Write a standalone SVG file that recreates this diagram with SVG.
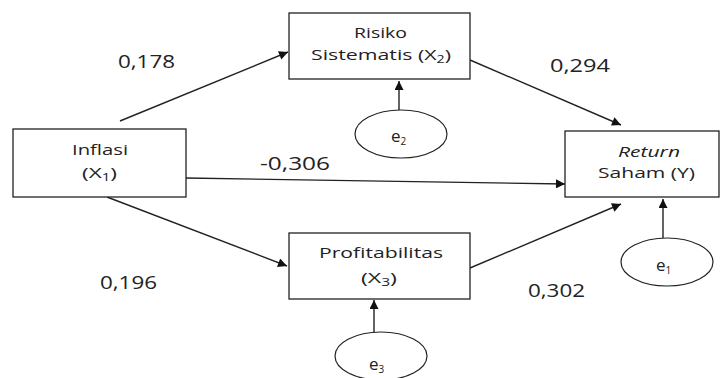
<svg xmlns="http://www.w3.org/2000/svg" width="721" height="378" viewBox="0 0 721 378">
<defs>
<style>
.box{fill:#fff;stroke:#222;stroke-width:1.3}
.ell{fill:#fff;stroke:#222;stroke-width:1.2}
.t{font-family:"Open Sans","DejaVu Sans",sans-serif;font-size:15px;fill:#222}
.e{font-family:"Open Sans","DejaVu Sans",sans-serif;font-size:17px;fill:#222}
.n{font-family:"Open Sans","DejaVu Sans",sans-serif;font-size:18px;fill:#222}
.sub{font-size:10px}
.c{stroke:#222;stroke-width:1.4;fill:none;marker-end:url(#ah)}
</style>
<marker id="ah" viewBox="0 0 10 10" refX="10" refY="5" markerWidth="11" markerHeight="9" markerUnits="userSpaceOnUse" orient="auto"><path d="M0,0 L10,5 L0,10 z" fill="#111"/></marker>
</defs>
<rect width="721" height="378" fill="#fff"/>
<g id="connectors">
<line class="c" x1="120" y1="121" x2="288" y2="52"/>
<line class="c" x1="470" y1="60" x2="621" y2="125"/>
<line class="c" x1="186" y1="178" x2="565" y2="184"/>
<line class="c" x1="107" y1="197" x2="287" y2="266"/>
<line class="c" x1="470" y1="268" x2="621" y2="204"/>
<line class="c" x1="399" y1="110" x2="399" y2="81"/>
<line class="c" x1="663" y1="238" x2="663" y2="199"/>
<line class="c" x1="374" y1="332" x2="374" y2="300"/>
</g>
<g id="inflasi">
<rect class="box" x="13" y="129" width="173" height="68"/>
<text class="t" x="72" y="155" textLength="56" lengthAdjust="spacingAndGlyphs">Inflasi</text>
<text class="t" x="82" y="178" textLength="35" lengthAdjust="spacingAndGlyphs">(X<tspan class="sub" dy="3">1</tspan><tspan dy="-3">)</tspan></text>
</g>
<g id="risiko">
<rect class="box" x="289" y="13" width="181" height="66"/>
<text class="t" x="354" y="38" textLength="53" lengthAdjust="spacingAndGlyphs">Risiko</text>
<text class="t" x="311" y="60" textLength="140" lengthAdjust="spacingAndGlyphs">Sistematis (X<tspan class="sub" dy="3">2</tspan><tspan dy="-3">)</tspan></text>
</g>
<g id="profitabilitas">
<rect class="box" x="289" y="233" width="181" height="66"/>
<text class="t" x="319" y="258" textLength="124" lengthAdjust="spacingAndGlyphs">Profitabilitas</text>
<text class="t" x="361" y="283" textLength="36" lengthAdjust="spacingAndGlyphs">(X<tspan class="sub" dy="3">3</tspan><tspan dy="-3">)</tspan></text>
</g>
<g id="return">
<rect class="box" x="565" y="131" width="154" height="66"/>
<text class="t" x="618" y="157" font-style="italic" textLength="62" lengthAdjust="spacingAndGlyphs">Return</text>
<text class="t" x="598" y="178" textLength="97" lengthAdjust="spacingAndGlyphs">Saham (Y)</text>
</g>
<g id="e2">
<ellipse class="ell" cx="401" cy="134" rx="46" ry="24"/>
<text class="e" x="391" y="142">e<tspan class="sub" dy="3">2</tspan></text>
</g>
<g id="e1">
<ellipse class="ell" cx="667" cy="262" rx="46" ry="24"/>
<text class="e" x="656" y="271">e<tspan class="sub" dy="3">1</tspan></text>
</g>
<g id="e3">
<ellipse class="ell" cx="381" cy="356" rx="46" ry="24"/>
<text class="e" x="369" y="370">e<tspan class="sub" dy="3">3</tspan></text>
</g>
<g id="labels">
<text class="n" x="118" y="68" textLength="57" lengthAdjust="spacingAndGlyphs">0,178</text>
<text class="n" x="260" y="170" textLength="70" lengthAdjust="spacingAndGlyphs">-0,306</text>
<text class="n" x="550" y="72" textLength="60" lengthAdjust="spacingAndGlyphs">0,294</text>
<text class="n" x="528" y="297" textLength="57" lengthAdjust="spacingAndGlyphs">0,302</text>
<text class="n" x="100" y="289" textLength="57" lengthAdjust="spacingAndGlyphs">0,196</text>
</g>
</svg>
